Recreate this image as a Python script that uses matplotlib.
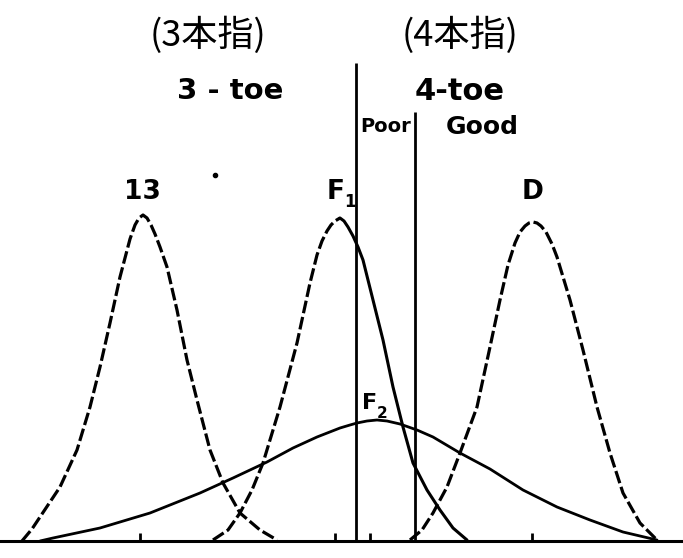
import matplotlib
matplotlib.use('Agg')
import matplotlib.pyplot as plt

# curves: x position and height above the base line
c13_x = [22, 32, 40, 50, 60, 77, 90, 100, 110, 120, 125, 130, 135, 139, 143, 147, 151, 155, 160, 167, 177, 187, 197, 210, 223, 240, 260, 277]
c13_h = [0, 12, 24, 39, 54, 91, 134, 174, 218, 264, 283, 302, 316, 323, 326, 323, 316, 307, 294, 274, 231, 181, 141, 91, 58, 28, 11, 1]

f1_left_x = [213, 228, 240, 252, 263, 280, 297, 310, 317, 322, 327, 331, 335, 340]
f1_left_h = [1, 11, 28, 51, 78, 134, 198, 258, 286, 300, 310, 316, 320, 323]
f1_right_x = [340, 344, 348, 353, 358, 363, 373, 383, 393, 403, 413, 427, 440, 453, 467]
f1_right_h = [323, 320, 314, 305, 294, 281, 241, 201, 154, 114, 78, 51, 31, 13, 1]

d_x = [410, 422, 433, 447, 460, 477, 490, 500, 508, 515, 520, 525, 529, 533, 537, 541, 546, 552, 557, 570, 583, 597, 610, 623, 640, 657]
d_h = [1, 11, 28, 54, 88, 134, 194, 241, 276, 298, 309, 315, 318, 319, 318, 315, 309, 297, 284, 241, 191, 134, 88, 48, 18, 1]

f2_x = [40, 53, 100, 150, 200, 233, 267, 293, 317, 340, 350, 357, 367, 377, 387, 400, 417, 433, 460, 490, 523, 557, 590, 623, 657]
f2_h = [0, 3, 13, 28, 48, 63, 79, 93, 104, 113, 116, 118, 120, 121, 120, 117, 111, 104, 88, 72, 51, 34, 21, 9, 1]

tick_x = [140, 335, 370, 532]
divider_x = [356, 415]
divider_top = [478, 429]

fig = plt.figure(figsize=(6.83, 5.58), dpi=100)
ax = fig.add_axes([0, 0, 1, 1])
ax.set_xlim(0, 683)
ax.set_ylim(-17, 541)
ax.axis('off')

dash = (4, 1.2)
ax.plot(c13_x, c13_h, color='black', lw=2.3, dashes=dash)
ax.plot(f1_left_x, f1_left_h, color='black', lw=2.3, dashes=dash)
ax.plot(f1_right_x, f1_right_h, color='black', lw=2.2, solid_capstyle='round')
ax.plot(d_x, d_h, color='black', lw=2.3, dashes=dash)
ax.plot(f2_x, f2_h, color='black', lw=2.0, solid_capstyle='round')

# base line, small ticks, the two dividers
ax.axhline(0, color='black', lw=2.2)
ax.vlines(tick_x, 0, 8, color='black', lw=2.0)
ax.vlines(divider_x, 0, divider_top, color='black', lw=2.0)

hand = dict(color='black', fontweight='bold', family='DejaVu Sans', ha='center', va='center')
ax.text(230, 450, '3 - toe', fontsize=21, **hand)
ax.text(460, 449, '4-toe', fontsize=22, **hand)
ax.text(386, 414, 'Poor', fontsize=14, **hand)
ax.text(482, 414, 'Good', fontsize=18, **hand)
ax.text(142, 349, '13', fontsize=19, **hand)
ax.text(336, 349, 'F', fontsize=19, **hand)
ax.text(350, 339, '1', fontsize=12, **hand)
ax.text(370, 138, 'F', fontsize=16, **hand)
ax.text(382, 128, '2', fontsize=11, **hand)
ax.text(533, 349, 'D', fontsize=19, **hand)
ax.plot([215], [366], 'o', color='black', ms=3)

jp = dict(color='black', family=['Noto Sans CJK JP', 'DejaVu Sans'], fontsize=26, ha='center', va='center')
ax.text(208, 506, '(3本指)', **jp)
ax.text(460, 506, '(4本指)', **jp)

fig.savefig('out.png', dpi=100)
